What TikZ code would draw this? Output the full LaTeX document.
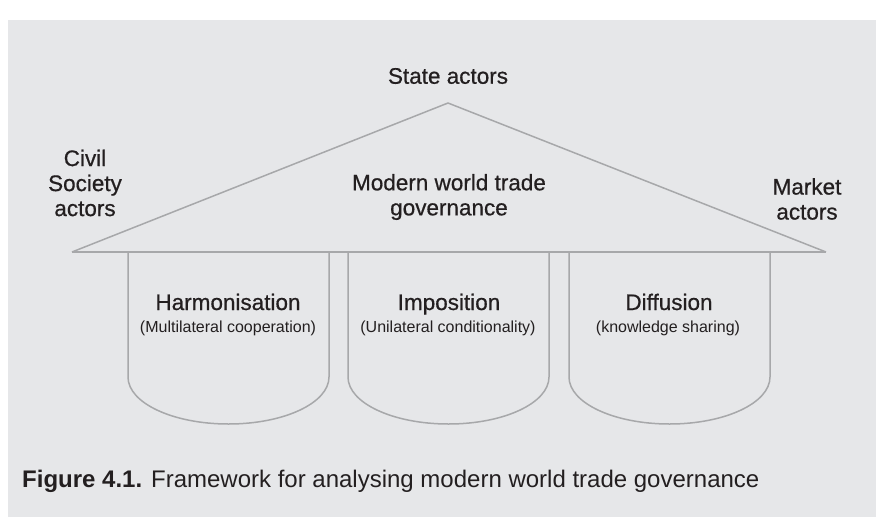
\documentclass[tikz,border=0pt]{standalone}
\usepackage{fontspec}
\setmainfont{Liberation Sans}
\definecolor{panel}{HTML}{E6E7E9}
\definecolor{edge}{HTML}{A7A8AA}
\definecolor{ink}{HTML}{231F20}
\tikzset{
  lbl/.style={text=ink, font=\fontsize{22.5}{25}\addfontfeature{FakeBold=0.6}\selectfont, align=center, inner sep=0pt},
  title/.style={lbl, anchor=base},
  sub/.style={text=ink, font=\fontsize{16}{18}\selectfont, inner sep=0pt, anchor=base},
  outline/.style={draw=edge, line width=1.5pt, line join=round},
  pillar/.style={draw=edge, line width=1.5pt, fill=panel}
}
\begin{document}
\begin{tikzpicture}[x=1pt,y=-1pt]
\useasboundingbox (0,0) rectangle (876,517);
\fill[white] (0,0) rectangle (876,517);
\fill[panel] (8,20) rectangle (876,517);
% pillars
\foreach \l/\n in {128/p1,348/p2,569/p3}{
  \draw[pillar] (\l,252) -- (\l,377) .. controls (\l,403) and (\l+45,424) .. (\l+100.5,424)
     .. controls (\l+156,424) and (\l+201,403) .. (\l+201,377) -- (\l+201,252);
}
% roof
\coordinate (apex) at (448,103);
\coordinate (bl) at (72,252);
\coordinate (br) at (826,252);
\draw[outline] (bl) -- (apex) -- (br);
\draw[draw=edge, line width=2pt] (bl) -- (br);
% labels
\node[lbl] (state) at (448,76) {State actors};
\node[lbl] (civil) at (85,183) {Civil\\Society\\actors};
\node[lbl] (modern) at (449,197) {Modern world trade\\governance};
\node[lbl] (market) at (807,199) {Market\\actors};
\node[title] (h) at (228,310) {Harmonisation};
\node[sub] (hs) at (228,332) {(Multilateral cooperation)};
\node[title] (i) at (449,310) {Imposition};
\node[sub] (is) at (448,332) {(Unilateral conditionality)};
\node[title] (d) at (669,310) {Diffusion};
\node[sub] (ds) at (668,332) {(knowledge sharing)};
\node[anchor=base west, inner sep=0pt, text=ink, font=\fontsize{24}{26}\selectfont] (cap) at (22,487) {\textbf{Figure 4.1.} Framework for analysing modern world trade governance};
\end{tikzpicture}
\end{document}
